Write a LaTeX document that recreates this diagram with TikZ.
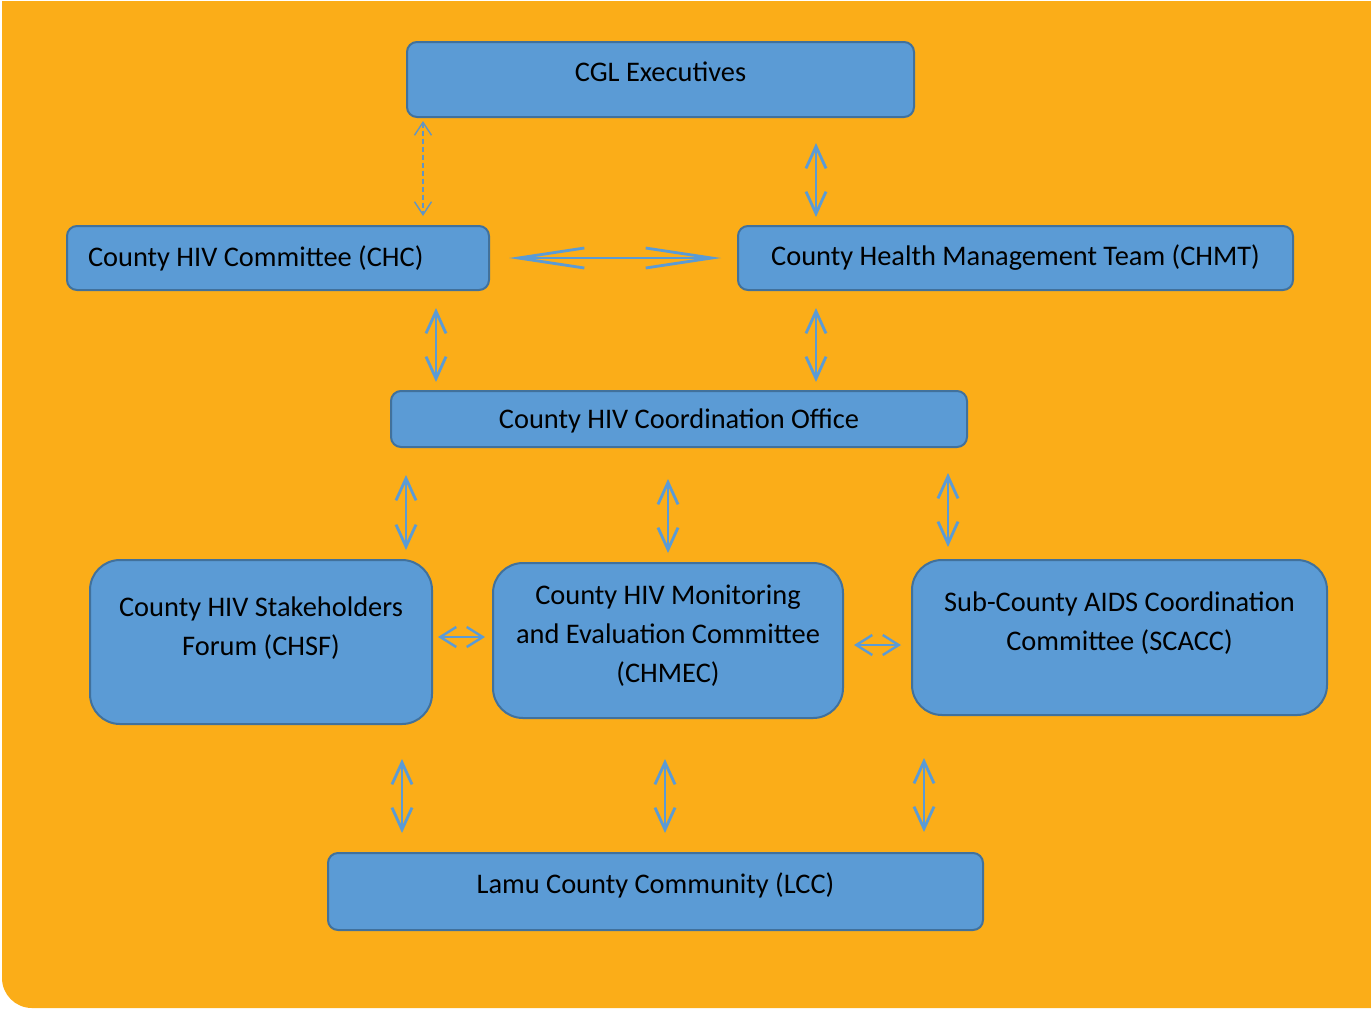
\documentclass[tikz,border=0pt]{standalone}
\usepackage{fontspec}
\setmainfont{Carlito}
\usetikzlibrary{arrows.meta}
\definecolor{bgorange}{RGB}{251,173,24}
\definecolor{boxblue}{RGB}{91,155,213}
\definecolor{boxline}{RGB}{65,113,156}
\definecolor{linkblue}{RGB}{91,155,213}
\tikzset{
  box/.style={draw=boxline,fill=boxblue,line width=1pt,rounded corners=5pt,inner sep=0pt,align=center},
  bigbox/.style={box,rounded corners=15pt},
  every label/.style={align=center},
  link/.style={linkblue,line width=1.4pt,>={Straight Barb[length=11pt,width=10pt]},<->},
  sidelink/.style={link,line width=1.2pt,>={Straight Barb[length=8pt,width=10pt]}},
  longlink/.style={link,>={Straight Barb[length=33pt,width=10pt]}},
  dashlink/.style={linkblue!80!gray,line width=0.7pt,dash pattern=on 2.5pt off 1.5pt,>={Straight Barb[length=6.5pt,width=8.5pt]},<->},
}
\begin{document}
\begin{tikzpicture}[x=0.5pt,y=-0.5pt,font=\fontsize{14.2}{19.5}\selectfont]
  \useasboundingbox (0,0) rectangle (1371,1008);
  \fill[bgorange] (1371,1) -- (2,1) -- (2,978) arc[start angle=180,end angle=90,radius=30] -- (1371,1008) -- cycle;
  % boxes
  \node[box,minimum width=253.5pt,minimum height=37.5pt,label={[yshift=3.75pt]center:CGL Executives}] (cgl) at (660.5,79.5) {};
  \node[box,minimum width=211pt,minimum height=32pt,text width=190pt,align=flush left] (chc) at (278,258) {County HIV Committee (CHC)};
  \node[box,minimum width=277.5pt,minimum height=32pt] (chmt) at (1015.5,258) {County Health Management Team (CHMT)};
  \node[box,minimum width=288pt,minimum height=28pt,label={[yshift=-1pt]center:County HIV Coordination Office}] (office) at (679,419) {};
  \node[bigbox,minimum width=171pt,minimum height=82pt,label={[yshift=6.75pt]center:{County HIV Stakeholders\\Forum (CHSF)}}] (chsf) at (261,642) {};
  \node[bigbox,minimum width=175pt,minimum height=77.5pt,label={[yshift=2.25pt]center:{County HIV Monitoring\\and Evaluation Committee\\(CHMEC)}}] (chmec) at (668,640.5) {};
  \node[bigbox,minimum width=207.5pt,minimum height=77.5pt,label={[yshift=7pt]center:{Sub-County AIDS Coordination\\Committee (SCACC)}}] (scacc) at (1119.5,637.5) {};
  \node[box,minimum width=327.5pt,minimum height=38.5pt,label={[yshift=3.25pt]center:Lamu County Community (LCC)}] (lcc) at (655.5,891.5) {};
  % links
  \foreach \a/\b/\x/\s/\e in {cgl/chmt/816/12.5pt/4pt,chc/office/436/8.5pt/4pt,chmt/office/816/8.5pt/4pt,
      office/chsf/406/13.5pt/4.5pt,office/chmec/668/15.5pt/4.5pt,office/scacc/948/12.5pt/6pt,
      chsf/lcc/402/17pt/9.5pt,chmec/lcc/665/20pt/9.5pt,scacc/lcc/924/21pt/10pt}
    \draw[link,shorten <=\s,shorten >=\e] (\a.south -| \x,0) -- (\b.north -| \x,0);
  \draw[dashlink,shorten <=1.5pt,shorten >=4.5pt] (cgl.south -| 423,0) -- (chc.north -| 423,0);
  \draw[longlink,shorten <=9.5pt,shorten >=8pt] (chc.east) -- (chmt.west);
  \draw[sidelink,shorten <=2.5pt,shorten >=3.5pt] (chsf.east |- 0,637) -- (chmec.west |- 0,637);
  \draw[sidelink,shorten <=5pt,shorten >=5pt] (chmec.east |- 0,645) -- (scacc.west |- 0,645);
\end{tikzpicture}
\end{document}
